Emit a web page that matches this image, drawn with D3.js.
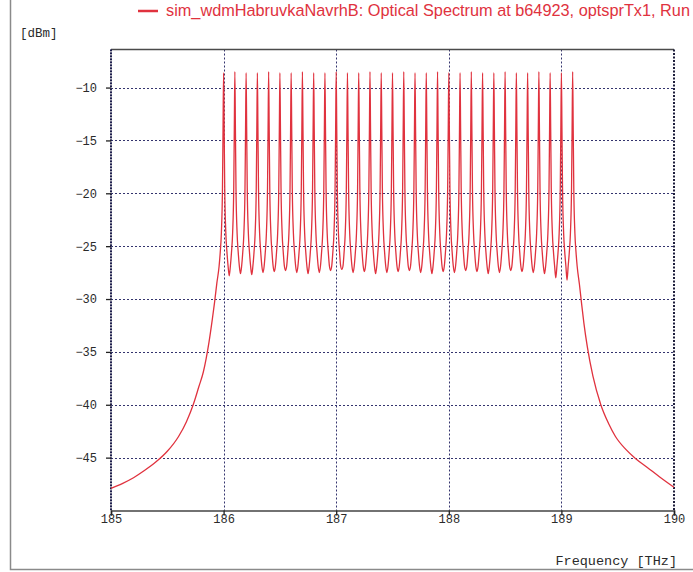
<!DOCTYPE html>
<html>
<head>
<meta charset="utf-8">
<script src="https://cdn.jsdelivr.net/npm/d3@7"></script>
<style>
  html, body { margin: 0; padding: 0; background: #fff; }
  svg { display: block; }
</style>
</head>
<body>
<svg id="chart" width="693" height="572"></svg>
<script>
// WDM optical spectrum: 32 channels on a 100 GHz grid
const channelFreqs = [
  186.0, 186.1, 186.2, 186.3, 186.4, 186.5, 186.6, 186.7,
  186.8, 186.9, 187.0, 187.1, 187.2, 187.3, 187.4, 187.5,
  187.6, 187.7, 187.8, 187.9, 188.0, 188.1, 188.2, 188.3,
  188.4, 188.5, 188.6, 188.7, 188.8, 188.9, 189.0, 189.1
];
// peak power of each channel [dBm]
const peakLevels = [
  -8.6, -8.5, -8.6, -8.6, -8.5, -8.6, -8.6, -8.5,
  -8.6, -8.6, -8.5, -8.6, -8.6, -8.5, -8.6, -8.6,
  -8.5, -8.6, -8.6, -8.5, -8.6, -8.6, -8.5, -8.6,
  -8.6, -8.5, -8.6, -8.6, -8.5, -8.6, -8.6, -8.5
];
// minimum between neighbouring channels [dBm]
const troughLevels = [
  -27.8, -27.6, -27.7, -27.5, -27.4, -27.3, -27.5, -27.6,
  -27.5, -27.3, -27.2, -27.5, -27.4, -27.6, -27.5, -27.4,
  -27.3, -27.5, -27.6, -27.4, -27.5, -27.3, -27.4, -27.6,
  -27.5, -27.3, -27.4, -27.5, -27.6, -28.0, -28.2
];
// channel skirt: distance from the carrier [THz] and level [dBm]
const skirtOffsets = [0.005, 0.01, 0.02, 0.03, 0.04];
const skirtLevels  = [-14.0, -19.5, -23.8, -25.6, -26.9];
// out-of-band tails
const leftWingFreqs  = [185.0, 185.1, 185.2, 185.3, 185.4, 185.5, 185.6, 185.67, 185.73, 185.78, 185.82, 185.87, 185.90, 185.92, 185.94];
const leftWingLevels = [-47.9, -47.45, -46.9, -46.2, -45.4, -44.4, -43.0, -41.6, -40.0, -38.3, -36.9, -34.1, -31.9, -30.3, -28.5];
const rightWingFreqs  = [189.16, 189.18, 189.20, 189.23, 189.28, 189.35, 189.42, 189.48, 189.57, 189.66, 189.76, 189.87, 190.0];
const rightWingLevels = [-28.6, -30.5, -32.3, -34.5, -37.3, -40.0, -41.8, -43.0, -44.2, -45.1, -45.9, -46.8, -47.8];

const xTicks = [185, 186, 187, 188, 189, 190];
const yTicks = [-10, -15, -20, -25, -30, -35, -40, -45];

const legendText = "sim_wdmHabruvkaNavrhB: Optical Spectrum at b64923, optsprTx1, Run";
const yUnit = "[dBm]";
const xTitle = "Frequency [THz]";

// ---- build the trace ----
const trace = [];
leftWingFreqs.forEach((f, i) => trace.push([f, leftWingLevels[i]]));
channelFreqs.forEach((fc, i) => {
  for (let k = skirtOffsets.length - 1; k >= 0; k--) trace.push([fc - skirtOffsets[k], skirtLevels[k]]);
  trace.push([fc, peakLevels[i]]);
  for (let k = 0; k < skirtOffsets.length; k++) trace.push([fc + skirtOffsets[k], skirtLevels[k]]);
  if (i < troughLevels.length) trace.push([(fc + channelFreqs[i + 1]) / 2, troughLevels[i]]);
});
rightWingFreqs.forEach((f, i) => trace.push([f, rightWingLevels[i]]));

// ---- layout ----
const svg = d3.select("#chart");
const plotLeft = 111, plotRight = 674, plotTop = 49.5, plotBottom = 510.5;
const x = d3.scaleLinear().domain([185, 190]).range([plotLeft, plotRight]);
const y = d3.scaleLinear().domain([-50, -6.4]).range([plotBottom, plotTop]);

const gridColor = "#34346e";
const mono = "'Liberation Mono', 'DejaVu Sans Mono', monospace";

// outer frame
svg.append("path")
  .attr("d", `M10.5,0 V569.5 H693`)
  .attr("fill", "none").attr("stroke", "#8a8a8a").attr("stroke-width", 1.5);

// grid
const grid = svg.append("g");
grid.selectAll("line.h").data(yTicks).join("line")
  .attr("x1", plotLeft).attr("x2", plotRight)
  .attr("y1", d => Math.round(y(d)) + 0.5).attr("y2", d => Math.round(y(d)) + 0.5)
  .attr("stroke", gridColor).attr("stroke-width", 1).attr("stroke-dasharray", "2,2");
grid.selectAll("line.v").data(xTicks.slice(1, -1)).join("line")
  .attr("x1", d => Math.round(x(d)) + 0.5).attr("x2", d => Math.round(x(d)) + 0.5)
  .attr("y1", plotTop).attr("y2", plotBottom)
  .attr("stroke", gridColor).attr("stroke-width", 1).attr("stroke-dasharray", "2,2");

// frame of plot area
svg.append("line").attr("x1", plotLeft).attr("x2", plotRight).attr("y1", plotTop).attr("y2", plotTop)
  .attr("stroke", "#4a4a4a").attr("stroke-width", 1.5);
svg.append("line").attr("x1", plotRight).attr("x2", plotRight).attr("y1", plotTop).attr("y2", plotBottom)
  .attr("stroke", "#1e1e3c").attr("stroke-width", 2).attr("stroke-dasharray", "2,1.5");
svg.append("line").attr("x1", plotLeft).attr("x2", plotLeft).attr("y1", plotTop).attr("y2", plotBottom)
  .attr("stroke", "#55556a").attr("stroke-width", 1);
svg.append("line").attr("x1", plotLeft).attr("x2", plotLeft).attr("y1", plotTop).attr("y2", plotBottom)
  .attr("stroke", "#1e1e4e").attr("stroke-width", 2).attr("stroke-dasharray", "1.5,1.5");

// spectrum trace
const line = d3.line().x(d => x(d[0])).y(d => y(d[1])).curve(d3.curveMonotoneX);
svg.append("path").datum(trace)
  .attr("d", line)
  .attr("fill", "none").attr("stroke", "#e0323e").attr("stroke-width", 1.3)
  .attr("stroke-linejoin", "round");

// axes
const xAxis = d3.axisBottom(x).tickValues(xTicks).tickFormat(d3.format("d")).tickSize(5).tickPadding(-1);
const gx = svg.append("g").attr("transform", `translate(0,${plotBottom})`).call(xAxis);
gx.select(".domain").attr("stroke", "#444").attr("stroke-width", 1.6);
gx.selectAll(".tick line").attr("stroke", "#222").attr("stroke-width", 1.3);
gx.selectAll(".tick text").attr("font-family", mono).attr("font-size", 12).attr("fill", "#2a2a2a");

const yAxis = d3.axisLeft(y).tickValues(yTicks).tickFormat(d3.format("d")).tickSize(5).tickPadding(9);
const gy = svg.append("g").attr("transform", `translate(${plotLeft},0)`).call(yAxis);
gy.select(".domain").remove();
gy.selectAll(".tick line").attr("stroke", "#222").attr("stroke-width", 1.3);
gy.selectAll(".tick text").attr("font-family", mono).attr("font-size", 12).attr("fill", "#2a2a2a");

// unit and axis title
svg.append("text").attr("x", 20).attr("y", 37).text(yUnit)
  .attr("font-family", mono).attr("font-size", 12.5).attr("fill", "#2a2a2a");
svg.append("text").attr("x", 677).attr("y", 565).attr("text-anchor", "end").text(xTitle)
  .attr("font-family", mono).attr("font-size", 13.5).attr("fill", "#2a2a2a");

// legend
svg.append("line").attr("x1", 138).attr("x2", 158).attr("y1", 11).attr("y2", 11)
  .attr("stroke", "#e0323e").attr("stroke-width", 2.5);
svg.append("text").attr("x", 166).attr("y", 15.5).text(legendText)
  .attr("font-family", "'Liberation Sans', Arial, sans-serif").attr("font-size", 16.3).attr("fill", "#e0323e");
</script>
</body>
</html>
